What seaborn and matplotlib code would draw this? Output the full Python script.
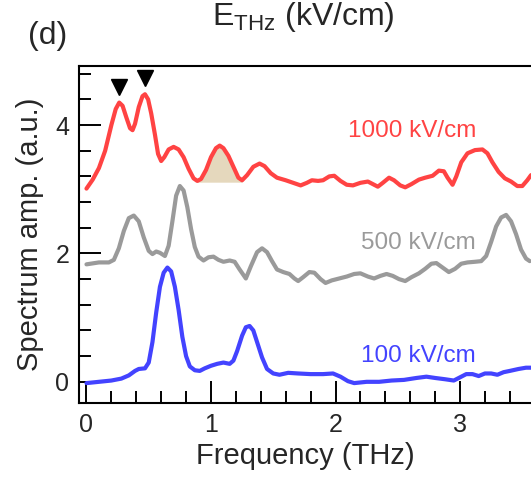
import numpy as np
import pandas as pd
import matplotlib
matplotlib.use("Agg")
import matplotlib.pyplot as plt
import seaborn as sns

# ---- data ----
red_x = [0.00, 0.05, 0.10, 0.15, 0.20, 0.235, 0.263, 0.29, 0.32, 0.35, 0.37, 0.39, 0.42, 0.45,
         0.47, 0.495, 0.52, 0.55, 0.575, 0.60, 0.625, 0.66, 0.70, 0.74, 0.78, 0.82, 0.86, 0.89,
         0.92, 0.96, 1.00, 1.04, 1.07, 1.10, 1.14, 1.18, 1.22, 1.25, 1.29, 1.34, 1.39, 1.43,
         1.48, 1.53, 1.60, 1.66, 1.72, 1.77, 1.81, 1.86, 1.90, 1.95, 1.99, 2.04, 2.09, 2.14,
         2.20, 2.26, 2.30, 2.34, 2.38, 2.43, 2.47, 2.52, 2.56, 2.61, 2.67, 2.72, 2.78, 2.83,
         2.87, 2.90, 2.94, 2.97, 3.01, 3.06, 3.12, 3.18, 3.22, 3.26, 3.31, 3.36, 3.41, 3.46,
         3.50, 3.54, 3.57]
red_y = [3.01, 3.15, 3.33, 3.60, 4.00, 4.25, 4.35, 4.30, 4.12, 3.95, 3.92, 4.02, 4.28, 4.45,
         4.48, 4.40, 4.18, 3.85, 3.55, 3.44, 3.50, 3.62, 3.66, 3.62, 3.50, 3.32, 3.17, 3.13,
         3.16, 3.30, 3.50, 3.64, 3.68, 3.64, 3.52, 3.35, 3.18, 3.14, 3.22, 3.35, 3.40, 3.36,
         3.25, 3.18, 3.14, 3.10, 3.06, 3.10, 3.14, 3.13, 3.14, 3.20, 3.21, 3.13, 3.07, 3.06,
         3.10, 3.12, 3.08, 3.04, 3.10, 3.18, 3.14, 3.06, 3.03, 3.08, 3.15, 3.18, 3.21, 3.29,
         3.28, 3.18, 3.07, 3.20, 3.42, 3.56, 3.61, 3.62, 3.56, 3.42, 3.27, 3.17, 3.12, 3.05,
         3.05, 3.14, 3.22]

gray_x = [0.00, 0.10, 0.18, 0.22, 0.26, 0.30, 0.34, 0.38, 0.42, 0.46, 0.50, 0.53, 0.56, 0.59,
          0.63, 0.66, 0.69, 0.72, 0.75, 0.78, 0.81, 0.84, 0.87, 0.90, 0.94, 0.98, 1.02, 1.06,
          1.10, 1.15, 1.19, 1.23, 1.28, 1.32, 1.37, 1.41, 1.45, 1.49, 1.53, 1.58, 1.63, 1.67,
          1.70, 1.74, 1.79, 1.83, 1.88, 1.92, 1.97, 2.03, 2.09, 2.15, 2.20, 2.26, 2.31, 2.36,
          2.41, 2.46, 2.51, 2.56, 2.61, 2.67, 2.72, 2.77, 2.81, 2.86, 2.91, 2.96, 3.01, 3.06,
          3.12, 3.17, 3.21, 3.25, 3.29, 3.33, 3.37, 3.41, 3.45, 3.49, 3.53, 3.56]
gray_y = [1.83, 1.86, 1.86, 1.90, 2.08, 2.35, 2.55, 2.59, 2.50, 2.25, 2.04, 1.99, 2.03, 2.01,
          1.96, 2.12, 2.50, 2.90, 3.05, 2.98, 2.72, 2.38, 2.10, 1.95, 1.89, 1.94, 1.95, 1.90,
          1.87, 1.89, 1.87, 1.75, 1.61, 1.80, 2.02, 2.08, 2.02, 1.88, 1.75, 1.71, 1.68, 1.61,
          1.57, 1.63, 1.71, 1.70, 1.60, 1.54, 1.58, 1.61, 1.64, 1.68, 1.69, 1.64, 1.61, 1.65,
          1.68, 1.65, 1.60, 1.57, 1.63, 1.69, 1.76, 1.84, 1.85, 1.78, 1.71, 1.76, 1.84, 1.86,
          1.87, 1.88, 1.96, 2.18, 2.42, 2.56, 2.60, 2.50, 2.30, 2.06, 1.92, 1.88]

blue_x = [0.00, 0.10, 0.20, 0.28, 0.34, 0.39, 0.42, 0.47, 0.50, 0.53, 0.56, 0.59, 0.62, 0.65,
          0.68, 0.71, 0.74, 0.77, 0.80, 0.83, 0.87, 0.91, 0.95, 1.00, 1.05, 1.10, 1.15, 1.18,
          1.21, 1.25, 1.28, 1.31, 1.34, 1.37, 1.41, 1.45, 1.50, 1.55, 1.62, 1.70, 1.80, 1.90,
          1.98, 2.04, 2.10, 2.15, 2.25, 2.35, 2.45, 2.55, 2.65, 2.73, 2.80, 2.88, 2.95, 3.00,
          3.05, 3.10, 3.15, 3.20, 3.25, 3.30, 3.35, 3.40, 3.47, 3.53, 3.57]
blue_y = [-0.02, 0.00, 0.02, 0.05, 0.10, 0.17, 0.20, 0.21, 0.30, 0.62, 1.08, 1.48, 1.70, 1.78,
          1.72, 1.48, 1.12, 0.70, 0.40, 0.24, 0.18, 0.17, 0.21, 0.25, 0.28, 0.30, 0.28, 0.33,
          0.48, 0.72, 0.85, 0.87, 0.80, 0.62, 0.38, 0.20, 0.13, 0.11, 0.14, 0.13, 0.12, 0.12,
          0.13, 0.08, 0.01, -0.02, 0.00, 0.00, 0.02, 0.03, 0.06, 0.08, 0.06, 0.04, 0.02, 0.07,
          0.12, 0.12, 0.09, 0.13, 0.13, 0.11, 0.15, 0.17, 0.20, 0.22, 0.22]

labels = ["1000 kV/cm", "500 kV/cm", "100 kV/cm"]
label_y = [3.90, 2.16, 0.40]
marker_x = [0.263, 0.471]
marker_y = [4.60, 4.74]
fill_range = (0.89, 1.25)
fill_base = 3.11

colors = ["#ff4343", "#9a9a9a", "#4343ff"]

# ---- styling ----
sns.set_theme(style="ticks")
plt.rcParams["font.family"] = ["Liberation Sans", "DejaVu Sans"]
plt.rcParams["mathtext.fontset"] = "custom"
plt.rcParams["mathtext.rm"] = "Liberation Sans"
plt.rcParams["mathtext.it"] = "Liberation Sans"

fig = plt.figure(figsize=(5.31, 4.78), dpi=100)
ax = fig.add_axes([79/531, 1-403/478, 1-79/531, (403-66)/478])

df = pd.concat([
    pd.DataFrame({"x": red_x, "y": red_y, "s": labels[0]}),
    pd.DataFrame({"x": gray_x, "y": gray_y, "s": labels[1]}),
    pd.DataFrame({"x": blue_x, "y": blue_y, "s": labels[2]}),
])
sns.lineplot(data=df, x="x", y="y", hue="s", palette=dict(zip(labels, colors)),
             sort=False, estimator=None, lw=3.0, legend=False, ax=ax)
for ln in ax.lines:
    ln.set_solid_joinstyle("round")
    ln.set_solid_capstyle("round")

# shaded peak
rx = np.array(red_x); ry = np.array(red_y)
m = (rx >= fill_range[0]) & (rx <= fill_range[1])
ax.fill_between(rx[m], ry[m], fill_base, color="#e5d8bd", zorder=1, lw=0)

ax.plot(marker_x, marker_y, "v", color="black", ms=12, ls="none")

for lab, yy, c in zip(labels, label_y, colors):
    ax.text(3.13, yy, lab, color=c, fontsize=17.5, ha="right", va="center")

ax.set_xlim(-0.06, 3.57)
ax.set_ylim(-0.33, 4.92)
ax.set_xticks([0, 1, 2, 3])
ax.set_yticks([0, 2, 4])
ax.set_xticks(np.arange(0, 3.6, 0.2), minor=True)
ax.set_yticks(np.arange(0, 4.9, 0.4), minor=True)
ax.tick_params(which="major", direction="in", length=16, width=1.4, labelsize=18, pad=7, color="black")
ax.tick_params(which="minor", direction="in", length=8.5, width=1.4, color="black")
for s in ["left", "bottom", "top"]:
    ax.spines[s].set_linewidth(1.5)
    ax.spines[s].set_color("black")
ax.spines["right"].set_visible(False)

ax.set_xlabel("Frequency (THz)", fontsize=21, labelpad=4)
ax.set_ylabel("Spectrum amp. (a.u.)", fontsize=21, labelpad=8)

fig.text(303/531, 1-0.5/478, r"E$_{\mathrm{THz}}$ (kV/cm)", fontsize=23, ha="center", va="top")
fig.text(28/531, 1-36/478, "(d)", fontsize=23, ha="left", va="center")

fig.savefig("out.png", dpi=100)
